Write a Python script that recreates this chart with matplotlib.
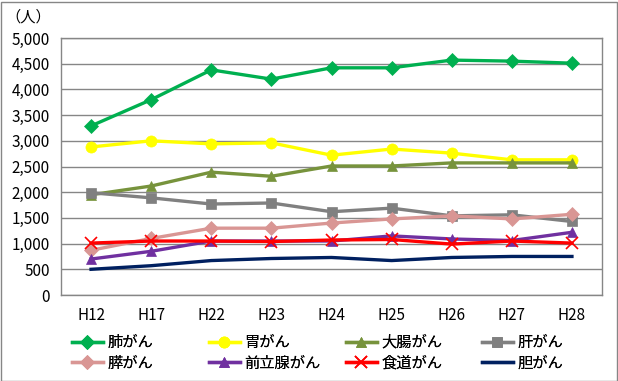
import matplotlib
matplotlib.use("Agg")
import matplotlib.pyplot as plt
from matplotlib.patches import Rectangle

plt.rcParams['font.family'] = ['Noto Sans CJK JP', 'DejaVu Sans']

years = ['H12', 'H17', 'H22', 'H23', 'H24', 'H25', 'H26', 'H27', 'H28']

lung = [3290, 3800, 4380, 4200, 4420, 4420, 4570, 4550, 4510]
stomach = [2880, 3000, 2940, 2960, 2720, 2840, 2760, 2630, 2630]
colorectal = [1950, 2120, 2390, 2310, 2510, 2510, 2570, 2570, 2570]
liver = [1990, 1890, 1770, 1790, 1620, 1690, 1540, 1560, 1430]
pancreas = [870, 1100, 1300, 1300, 1400, 1480, 1540, 1480, 1570]
prostate = [700, 850, 1050, 1050, 1050, 1150, 1090, 1060, 1220]
esophagus = [1010, 1050, 1050, 1040, 1070, 1080, 990, 1050, 1010]
bile = [500, 570, 670, 710, 730, 670, 730, 750, 750]

series = [
    ('肺がん', lung, '#00B050', 'D'),
    ('胃がん', stomach, '#FFFF00', 'o'),
    ('大腸がん', colorectal, '#77933C', '^'),
    ('肝がん', liver, '#808080', 's'),
    ('膵がん', pancreas, '#D99694', 'D'),
    ('前立腺がん', prostate, '#7030A0', '^'),
    ('食道がん', esophagus, '#FF0000', 'x'),
    ('胆がん', bile, '#002060', None),
]

fig = plt.figure(figsize=(6.18, 3.81), dpi=100)
ax = fig.add_axes([61 / 618, 1 - 295 / 381, 541 / 618, 257 / 381])

x = range(len(years))
handles = []
for name, vals, color, marker in series:
    ms = 7
    if marker == 'o':
        ms = 8
    if marker == 'x':
        ms = 8
    h, = ax.plot(x, vals, color=color, lw=2.4, marker=marker, ms=ms,
                 mew=1.2 if marker == 'x' else 0.5, mec=color, label=name)
    handles.append(h)

ax.set_xlim(-0.5, len(years) - 0.5)
ax.set_ylim(0, 5000)
ax.set_yticks(range(0, 5001, 500))
ax.set_yticklabels([f'{v:,}' for v in range(0, 5001, 500)], fontsize=11)
ax.set_xticks(list(x))
ax.set_xticklabels(years, fontsize=11)
ax.tick_params(length=0, pad=8)
ax.tick_params(axis='x', pad=9)
ax.grid(axis='y', color='#868686', lw=1)
ax.set_axisbelow(True)
for s in ax.spines.values():
    s.set_color('#868686')
    s.set_linewidth(1)

fig.text(28 / 618, 1 - 17 / 381, '（人）', fontsize=11, ha='center', va='center')

# legend: 4 fixed columns, 2 rows (row-major order)
col_x = [72, 209, 346, 482]
for i, cx in enumerate(col_x):
    leg = fig.legend(handles=[handles[i], handles[i + 4]], loc='upper left',
                     bbox_to_anchor=(cx / 618, 1 - 334 / 381), frameon=False,
                     fontsize=11, handlelength=2.0, handletextpad=0.3,
                     labelspacing=0.25, borderpad=0, borderaxespad=0)
    fig.add_artist(leg)

fig.patches.append(Rectangle((0.5 / 618, 0.5 / 381), 616 / 618, 379 / 381,
                             transform=fig.transFigure, fill=False,
                             edgecolor='#868686', lw=1))

fig.savefig('out.png', dpi=100)
